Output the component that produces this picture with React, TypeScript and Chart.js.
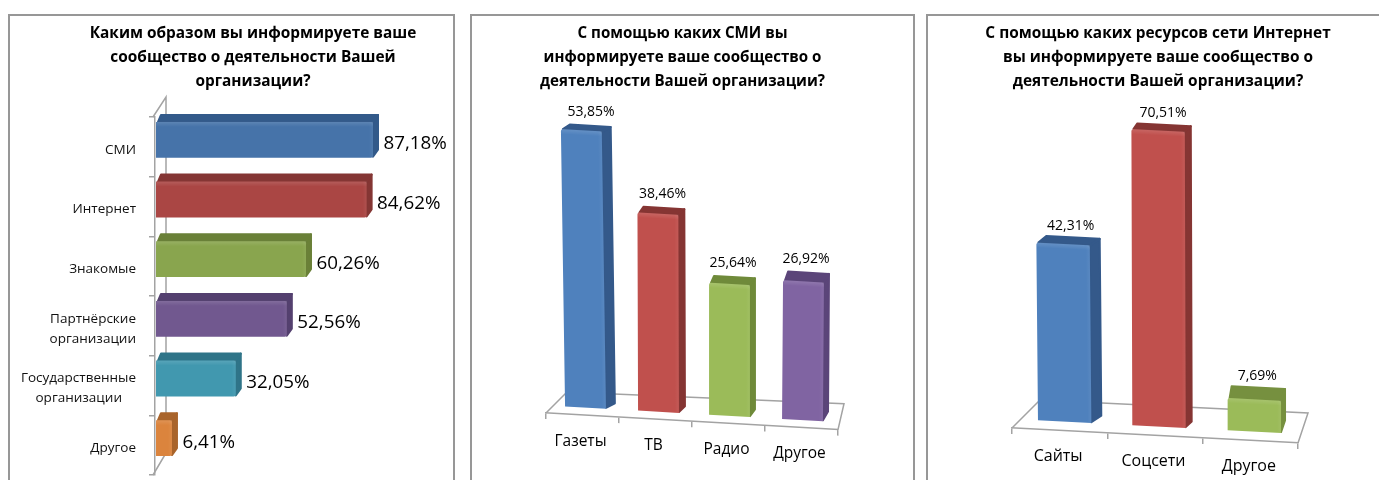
import React, { useEffect, useRef } from "react";
import { Chart, registerables } from "chart.js";

Chart.register(...registerables);

const FONT = "'Open Sans', sans-serif";

const wayTitle = ["Каким образом вы информируете ваше", "сообщество о деятельности Вашей", "организации?"];
const wayCategories = ["СМИ", "Интернет", "Знакомые", ["Партнёрские", "организации"], ["Государственные", "организации    "], "Другое"];
const wayValues = [87.18, 84.62, 60.26, 52.56, 32.05, 6.41];
const wayFront = ["#4673a9", "#aa4644", "#89a54e", "#71588f", "#4198af", "#db843d"];
const waySide = ["#335a8a", "#843634", "#6a8038", "#54406f", "#2f7488", "#a9642b"];

const mediaTitle = ["С помощью каких СМИ вы", "информируете ваше сообщество о", "деятельности Вашей организации?"];
const mediaCategories = ["Газеты", "ТВ", "Радио", "Другое"];
const mediaValues = [53.85, 38.46, 25.64, 26.92];
const mediaFront = ["#4f81bd", "#c0504d", "#9bbb59", "#8064a2"];
const mediaSide = ["#34598a", "#853533", "#6f8a3a", "#5b4579"];

const webTitle = ["С помощью каких ресурсов сети Интернет", "вы информируете ваше сообщество о", "деятельности Вашей организации?"];
const webCategories = ["Сайты", "Соцсети", "Другое"];
const webValues = [42.31, 70.51, 7.69];
const webFront = ["#4f81bd", "#c0504d", "#9bbb59"];
const webSide = ["#34598a", "#853533", "#76903f"];

const fmt = (v: number) => v.toFixed(2).replace(".", ",") + "%";

function poly(ctx: any, pts: number[][], fill: string) {
  ctx.beginPath();
  pts.forEach((p, i) => (i ? ctx.lineTo(p[0], p[1]) : ctx.moveTo(p[0], p[1])));
  ctx.closePath();
  ctx.fillStyle = fill;
  ctx.strokeStyle = fill;
  ctx.lineWidth = 2;
  ctx.lineJoin = "round";
  ctx.fill();
  ctx.stroke();
}

function makePlugin(s: any) {
  return {
    id: "bars3d",
    afterLayout(chart: any) {
      if (!s.slope) return;
      const scale = chart.scales.x;
      if (scale.__sheared) return;
      scale.__sheared = true;
      const wrap = (name: string) => {
        const orig = scale[name];
        scale[name] = function (...args: any[]) {
          const ctx = chart.ctx;
          ctx.save();
          ctx.transform(1, s.slope, 0, 1, 0, -s.slope * chart.chartArea.left);
          orig.apply(scale, args);
          ctx.restore();
        };
      };
      wrap("drawGrid");
      wrap("drawBorder");
    },
    beforeDatasetsDraw(chart: any) {
      const ctx = chart.ctx;
      const a = chart.chartArea;
      ctx.save();
      ctx.strokeStyle = s.axisColor;
      ctx.lineWidth = 1.5;
      ctx.beginPath();
      if (s.horizontal) {
        const wx = a.left + s.wall[0];
        ctx.moveTo(a.left - 2, a.top);
        ctx.lineTo(wx, a.top + s.wall[1]);
        ctx.lineTo(wx, a.bottom + s.wall[2]);
        ctx.lineTo(a.left - 2, a.bottom);
      } else {
        const fr = a.bottom + s.slope * (a.right - a.left);
        ctx.moveTo(a.left, a.bottom);
        ctx.lineTo(a.left + s.floor[0], a.bottom + s.floor[1]);
        ctx.lineTo(a.right + s.floor[2], fr + s.floor[3]);
        ctx.lineTo(a.right, fr);
      }
      ctx.stroke();
      ctx.restore();
    },
    beforeDatasetDraw(chart: any, args: any) {
      const ctx = chart.ctx;
      const a = chart.chartArea;
      args.meta.data.forEach((el: any, i: number) => {
        const p = el.getProps(["x", "y", "base", "width", "height"], true);
        const L = s.horizontal ? p.base : p.x - p.width / 2;
        const R = s.horizontal ? p.x : p.x + p.width / 2;
        const T = s.horizontal ? p.y - p.height / 2 : p.y;
        const B = s.horizontal ? p.y + p.height / 2 : p.base;
        const dx = s.depthX[i];
        const dy = s.depthY[i];
        const shx = s.shiftX[i];
        ctx.save();
        ctx.translate(shx, s.shiftY);
        ctx.transform(1, s.slope, s.lean[i], 1, -s.lean[i] * B, -s.slope * a.left);
        poly(ctx, [[R, T + 1], [R + dx, T - dy + 1], [R + dx, B - dy], [R, B - 1]], s.side[i]);
        poly(ctx, [[L + 2, T], [L + dx, T - dy + 1], [R + dx, T - dy + 1], [R, T]], s.side[i]);
        el.draw(ctx);
        const band = ctx.createLinearGradient(0, T, 0, T + 5);
        band.addColorStop(0, "rgba(255,255,255,0.12)");
        band.addColorStop(1, "rgba(255,255,255,0)");
        ctx.fillStyle = band;
        ctx.fillRect(L, T, R - L, 5);
        const edge = ctx.createLinearGradient(R - 4, 0, R, 0);
        edge.addColorStop(0, "rgba(255,255,255,0)");
        edge.addColorStop(1, "rgba(255,255,255,0.06)");
        ctx.fillStyle = edge;
        ctx.fillRect(R - 4, T, 4, B - T);
        ctx.restore();

        const raw = chart.data.datasets[0].data[i];
        ctx.save();
        ctx.fillStyle = "#000";
        ctx.font = `${s.labelSize}px ${FONT}`;
        ctx.textBaseline = "middle";
        if (s.horizontal) {
          ctx.textAlign = "left";
          ctx.fillText(fmt(raw), R + dx + 5.5 + shx, (T + B) / 2 + s.shiftY + 4);
        } else {
          ctx.textAlign = "center";
          const cx = (L + R + dx) / 2 + shx + 1;
          const top = T + s.slope * (cx - a.left) + s.shiftY - dy;
          ctx.fillText(fmt(raw), cx, top - s.labelGap);
        }
        ctx.restore();
      });
      return false;
    },
    afterDraw(chart: any) {
      if (s.horizontal) return;
      const ctx = chart.ctx;
      const scale = chart.scales.x;
      const a = chart.chartArea;
      ctx.save();
      ctx.fillStyle = "#000";
      ctx.font = `${s.tickSize}px ${FONT}`;
      ctx.textAlign = "center";
      ctx.textBaseline = "middle";
      chart.data.labels.forEach((lab: string, i: number) => {
        const x = scale.getPixelForTick(i);
        ctx.fillText(lab, x + s.tickDx, a.bottom + s.slope * (x - a.left) + s.tickGap);
      });
      ctx.restore();
    },
  };
}

function hiddenAxis(position: string, width: number, max: number) {
  return {
    position,
    min: 0,
    max,
    afterFit(sc: any) { sc.width = width; },
    grid: { display: false },
    border: { display: false },
    ticks: { display: false },
  };
}

function build(canvas: HTMLCanvasElement, c: any) {
  const axis = "#a3a3a3";
  const common = {
    responsive: false,
    animation: false,
    events: [],
    plugins: {
      legend: { display: false },
      tooltip: { enabled: false },
      title: {
        display: true,
        text: c.title,
        color: "#000",
        font: { family: FONT, size: c.titleSize, weight: "bold", lineHeight: 24 / c.titleSize },
        padding: { top: 22, bottom: c.titleGap },
      },
    },
  };
  const dataset = {
    data: c.values,
    backgroundColor: c.front,
    barPercentage: c.barPct,
    categoryPercentage: 1,
    borderRadius: 2,
    clip: false,
  };
  const style = { ...c.style, axisColor: axis, side: c.side, horizontal: c.horizontal };
  if (c.horizontal) {
    return new Chart(canvas, {
      type: "bar",
      data: { labels: c.categories, datasets: [dataset] },
      options: {
        ...common,
        indexAxis: "y",
        layout: { padding: c.padding },
        scales: {
          x: { display: false, min: 0, max: c.max },
          y: {
            afterFit(sc: any) {
              sc.width = c.axisWidth;
              sc.paddingTop = 0;
              sc.paddingBottom = 0;
            },
            grid: { color: axis, drawOnChartArea: false, tickLength: 6, lineWidth: 1.5 },
            border: { color: axis, width: 1.5 },
            ticks: { color: "#111", padding: 13, labelOffset: 3, font: { family: FONT, size: 13.5, lineHeight: 1.48 }, autoSkip: false },
          },
        },
      },
      plugins: [makePlugin(style)],
    } as any);
  }
  const scales: any = {
    y: hiddenAxis(c.yPos, c.yWidth, c.max),
    x: {
      afterFit(sc: any) { sc.height = 0; },
      grid: { color: axis, drawOnChartArea: false, tickLength: 6, lineWidth: 1.5 },
      border: { color: axis, width: 1.5 },
      ticks: { display: false },
    },
  };
  if (c.y2Width) scales.y2 = hiddenAxis("right", c.y2Width, c.max);
  return new Chart(canvas, {
    type: "bar",
    data: { labels: c.categories, datasets: [dataset] },
    options: { ...common, layout: { padding: c.padding }, scales },
    plugins: [makePlugin(style)],
  } as any);
}

const panels = [
  {
    left: 10, width: 486, title: wayTitle, titleSize: 15.4, titleGap: 23, horizontal: true, max: 137,
    categories: wayCategories, values: wayValues, front: wayFront, side: waySide, barPct: 0.6,
    axisWidth: 145, padding: { left: 0, right: 0, bottom: 5, top: 0 },
    style: {
      slope: 0, lean: [0, 0, 0, 0, 0, 0], depthX: [5, 5, 5, 5, 5, 5], depthY: [8, 8, 8, 8, 8, 8],
      shiftX: [1, 1, 1, 1, 1, 1], shiftY: -7, wall: [11, -20, -22], labelSize: 18.8,
    },
  },
  {
    left: 470, width: 425, title: mediaTitle, titleSize: 15.1, titleGap: 10, horizontal: false, max: 60, yPos: "left", yWidth: 19,
    categories: mediaCategories, values: mediaValues, front: mediaFront, side: mediaSide, barPct: 0.56,
    padding: { left: 57, right: 57, bottom: 67, top: 0 },
    style: {
      slope: 0.057, lean: [0.015, 0.003, 0, -0.007], depthX: [9, 6, 5, 5], depthY: [6, 7, 8, 10],
      shiftX: [3, 3, 1, 1], shiftY: -7.5, floor: [21, -21, 6, -26], labelSize: 14, labelGap: 13, tickSize: 15.5, tickDx: -2, tickGap: 26,
    },
  },
  {
    left: 940, width: 436, title: webTitle, titleSize: 15.4, titleGap: 0, horizontal: false, max: 79.5, yPos: "left", yWidth: 30, y2Width: 36,
    categories: webCategories, values: webValues, front: webFront, side: webSide, barPct: 0.56,
    padding: { left: 42, right: 42, bottom: 52, top: 0 },
    style: {
      slope: 0.0524, lean: [0.009, 0.003, 0], depthX: [10, 6, 4], depthY: [8, 7, 13],
      shiftX: [5, 4, 4], shiftY: -8.8, floor: [28, -28, 10, -30], labelSize: 14, labelGap: 11, tickSize: 16, tickDx: -1.5, tickGap: 26,
    },
  },
];

const frames = [
  { left: 8, width: 447, borderRight: true },
  { left: 470, width: 445, borderRight: true },
  { left: 926, width: 460, borderRight: false },
];

function Panel({ config }: { config: any }) {
  const ref = useRef<HTMLCanvasElement>(null);
  useEffect(() => {
    const chart = build(ref.current as HTMLCanvasElement, config);
    return () => chart.destroy();
  }, [config]);
  return (
    <canvas
      ref={ref}
      width={config.width}
      height={480}
      style={{ position: "absolute", left: config.left, top: 0, width: config.width, height: 480 }}
    />
  );
}

export default function App() {
  return (
    <div style={{ position: "fixed", left: 0, top: 0, width: 1379, height: 480, overflow: "hidden", background: "#fff" }}>
      {frames.map((f, i) => (
        <div
          key={i}
          style={{
            position: "absolute",
            left: f.left,
            top: 14,
            width: f.width,
            height: 480,
            boxSizing: "border-box",
            borderTop: "2px solid #979797",
            borderLeft: "2px solid #979797",
            borderRight: f.borderRight ? "2px solid #979797" : "none",
          }}
        />
      ))}
      {panels.map((p, i) => (
        <Panel key={i} config={p} />
      ))}
    </div>
  );
}
